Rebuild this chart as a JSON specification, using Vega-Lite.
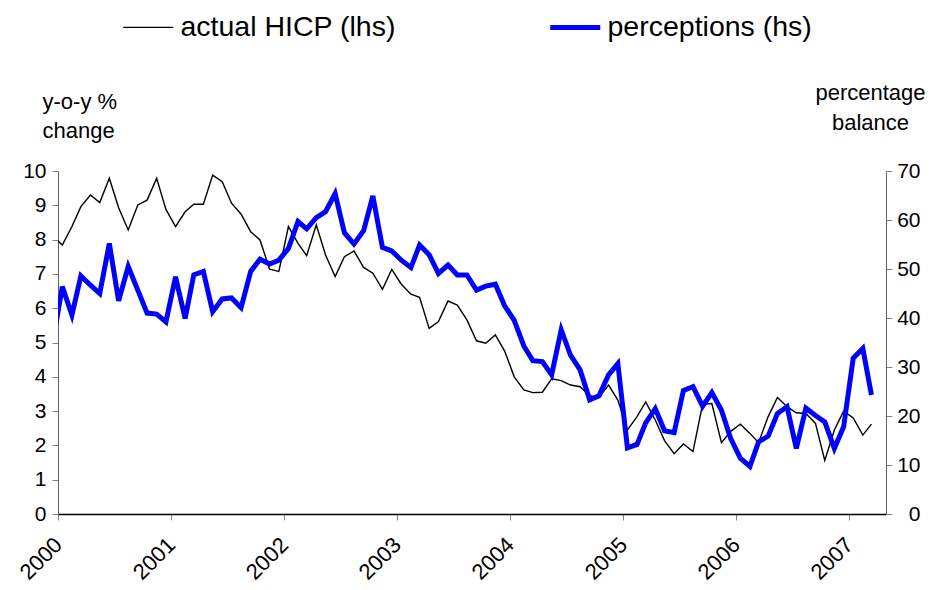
{
  "$schema": "https://vega.github.io/schema/vega-lite/v6.json",
  "autosize": "none",
  "width": 828,
  "height": 343,
  "padding": {"left": 58, "top": 171, "right": 49, "bottom": 76},
  "background": "white",
  "config": {
    "view": {"stroke": null},
    "font": "Liberation Sans",
    "axis": {"labelFont": "Liberation Sans", "titleFont": "Liberation Sans", "labelColor": "#000", "titleColor": "#000", "grid": false},
    "legend": {"labelFont": "Liberation Sans"}
  },
  "data": {
    "values": [
      {"d": "1999-12-15", "h": 8.1, "p": 35.0},
      {"d": "2000-01-15", "h": 7.84, "p": 46.4},
      {"d": "2000-02-15", "h": 8.38, "p": 40.6},
      {"d": "2000-03-15", "h": 8.96, "p": 48.6},
      {"d": "2000-04-15", "h": 9.30, "p": 46.7},
      {"d": "2000-05-15", "h": 9.08, "p": 45.0},
      {"d": "2000-06-15", "h": 9.79, "p": 55.2},
      {"d": "2000-07-15", "h": 8.93, "p": 43.5},
      {"d": "2000-08-15", "h": 8.28, "p": 50.5},
      {"d": "2000-09-15", "h": 9.01, "p": 45.7},
      {"d": "2000-10-15", "h": 9.15, "p": 41.0},
      {"d": "2000-11-15", "h": 9.79, "p": 40.8},
      {"d": "2000-12-15", "h": 8.88, "p": 39.2},
      {"d": "2001-01-15", "h": 8.38, "p": 48.4},
      {"d": "2001-02-15", "h": 8.81, "p": 39.9},
      {"d": "2001-03-15", "h": 9.03, "p": 48.8},
      {"d": "2001-04-15", "h": 9.03, "p": 49.5},
      {"d": "2001-05-15", "h": 9.88, "p": 41.3},
      {"d": "2001-06-15", "h": 9.69, "p": 43.9},
      {"d": "2001-07-15", "h": 9.06, "p": 44.1},
      {"d": "2001-08-15", "h": 8.74, "p": 42.1},
      {"d": "2001-09-15", "h": 8.23, "p": 49.5},
      {"d": "2001-10-15", "h": 7.99, "p": 52.0},
      {"d": "2001-11-15", "h": 7.14, "p": 51.0},
      {"d": "2001-12-15", "h": 7.07, "p": 51.8},
      {"d": "2002-01-15", "h": 8.38, "p": 54.2},
      {"d": "2002-02-15", "h": 7.89, "p": 59.7},
      {"d": "2002-03-15", "h": 7.53, "p": 58.2},
      {"d": "2002-04-15", "h": 8.43, "p": 60.5},
      {"d": "2002-05-15", "h": 7.55, "p": 61.7},
      {"d": "2002-06-15", "h": 6.92, "p": 65.4},
      {"d": "2002-07-15", "h": 7.50, "p": 57.4},
      {"d": "2002-08-15", "h": 7.67, "p": 55.1},
      {"d": "2002-09-15", "h": 7.19, "p": 57.8},
      {"d": "2002-10-15", "h": 7.02, "p": 64.9},
      {"d": "2002-11-15", "h": 6.55, "p": 54.4},
      {"d": "2002-12-15", "h": 7.13, "p": 53.7},
      {"d": "2003-01-15", "h": 6.70, "p": 51.8},
      {"d": "2003-02-15", "h": 6.41, "p": 50.3},
      {"d": "2003-03-15", "h": 6.32, "p": 54.9},
      {"d": "2003-04-15", "h": 5.41, "p": 52.9},
      {"d": "2003-05-15", "h": 5.61, "p": 49.1},
      {"d": "2003-06-15", "h": 6.21, "p": 50.8},
      {"d": "2003-07-15", "h": 6.09, "p": 48.8},
      {"d": "2003-08-15", "h": 5.66, "p": 48.8},
      {"d": "2003-09-15", "h": 5.05, "p": 45.7},
      {"d": "2003-10-15", "h": 4.98, "p": 46.5},
      {"d": "2003-11-15", "h": 5.22, "p": 46.9},
      {"d": "2003-12-15", "h": 4.75, "p": 42.5},
      {"d": "2004-01-15", "h": 4.00, "p": 39.5},
      {"d": "2004-02-15", "h": 3.62, "p": 34.3},
      {"d": "2004-03-15", "h": 3.54, "p": 31.3},
      {"d": "2004-04-15", "h": 3.55, "p": 31.1},
      {"d": "2004-05-15", "h": 3.94, "p": 28.4},
      {"d": "2004-06-15", "h": 3.89, "p": 37.6},
      {"d": "2004-07-15", "h": 3.76, "p": 32.4},
      {"d": "2004-08-15", "h": 3.71, "p": 29.4},
      {"d": "2004-09-15", "h": 3.45, "p": 23.3},
      {"d": "2004-10-15", "h": 3.40, "p": 24.1},
      {"d": "2004-11-15", "h": 3.76, "p": 28.4},
      {"d": "2004-12-15", "h": 3.32, "p": 30.7},
      {"d": "2005-01-15", "h": 2.45, "p": 13.5},
      {"d": "2005-02-15", "h": 2.84, "p": 14.2},
      {"d": "2005-03-15", "h": 3.27, "p": 18.6},
      {"d": "2005-04-15", "h": 2.74, "p": 21.5},
      {"d": "2005-05-15", "h": 2.14, "p": 17.0},
      {"d": "2005-06-15", "h": 1.76, "p": 16.6},
      {"d": "2005-07-15", "h": 2.04, "p": 25.2},
      {"d": "2005-08-15", "h": 1.82, "p": 26.0},
      {"d": "2005-09-15", "h": 3.20, "p": 22.0},
      {"d": "2005-10-15", "h": 3.22, "p": 24.8},
      {"d": "2005-11-15", "h": 2.08, "p": 21.2},
      {"d": "2005-12-15", "h": 2.41, "p": 15.4},
      {"d": "2006-01-15", "h": 2.62, "p": 11.4},
      {"d": "2006-02-15", "h": 2.35, "p": 9.7},
      {"d": "2006-03-15", "h": 2.08, "p": 14.7},
      {"d": "2006-04-15", "h": 2.84, "p": 15.9},
      {"d": "2006-05-15", "h": 3.40, "p": 20.5},
      {"d": "2006-06-15", "h": 3.13, "p": 21.9},
      {"d": "2006-07-15", "h": 2.95, "p": 13.4},
      {"d": "2006-08-15", "h": 2.93, "p": 21.6},
      {"d": "2006-09-15", "h": 2.64, "p": 20.1},
      {"d": "2006-10-15", "h": 1.56, "p": 18.8},
      {"d": "2006-11-15", "h": 2.45, "p": 13.4},
      {"d": "2006-12-15", "h": 3.00, "p": 17.8},
      {"d": "2007-01-15", "h": 2.80, "p": 31.8},
      {"d": "2007-02-15", "h": 2.30, "p": 33.8},
      {"d": "2007-03-15", "h": 2.62, "p": 24.3}
    ]
  },
  "encoding": {
    "x": {
      "field": "d",
      "type": "temporal",
      "scale": {
        "type": "utc",
        "domain": [
          {"year": 2000, "month": 1, "date": 1, "utc": true},
          {"year": 2007, "month": 5, "date": 1, "utc": true}
        ]
      },
      "axis": {
        "title": null,
        "values": [
          {"year": 2000, "month": 1, "date": 1, "utc": true},
          {"year": 2001, "month": 1, "date": 1, "utc": true},
          {"year": 2002, "month": 1, "date": 1, "utc": true},
          {"year": 2003, "month": 1, "date": 1, "utc": true},
          {"year": 2004, "month": 1, "date": 1, "utc": true},
          {"year": 2005, "month": 1, "date": 1, "utc": true},
          {"year": 2006, "month": 1, "date": 1, "utc": true},
          {"year": 2007, "month": 1, "date": 1, "utc": true}
        ],
        "format": "%Y",
        "formatType": "utc",
        "labelAngle": -45,
        "labelAlign": "right",
        "labelBaseline": "middle",
        "labelPadding": 21,
        "labelFontSize": 22,
        "labelFlush": false,
        "labelBound": false,
        "labelOverlap": false,
        "tickSize": 6,
        "tickColor": "#808080",
        "domainColor": "#000000",
        "domainWidth": 1.5
      }
    }
  },
  "layer": [
    {
      "mark": {"type": "line", "clip": true, "strokeWidth": 1.4},
      "encoding": {
        "y": {
          "field": "h",
          "type": "quantitative",
          "scale": {"domain": [0, 10], "nice": false, "zero": true},
          "axis": {
            "orient": "left",
            "values": [0, 1, 2, 3, 4, 5, 6, 7, 8, 9, 10],
            "title": ["y-o-y %", "change"],
            "titleAngle": 0,
            "titleAlign": "left",
            "titleBaseline": "alphabetic",
            "titleX": -16,
            "titleY": -63,
            "titleFontSize": 22,
            "titleFontWeight": "normal",
            "titleLineHeight": 29,
            "labelFontSize": 21,
            "labelPadding": 6,
            "tickSize": 6,
            "tickColor": "#808080",
            "domainColor": "#606060",
            "labelBound": false,
            "labelFlush": false
          }
        },
        "color": {
          "datum": "actual HICP (lhs)",
          "scale": {"domain": ["actual HICP (lhs)", "perceptions (hs)"], "range": ["#000000", "#0000ff"]},
          "legend": {
            "orient": "none",
            "legendX": 76,
            "legendY": -158,
            "direction": "horizontal",
            "columns": 2,
            "columnPadding": 144,
            "title": null,
            "padding": 0,
            "labelFontSize": 28.5,
            "labelLimit": 500,
            "labelOffset": 18,
            "symbolType": "stroke",
            "symbolSize": 2500,
            "encode": {
              "symbols": {
                "update": {
                  "strokeWidth": {"signal": "datum.value === 'perceptions (hs)' ? 5 : 1.4"}
                }
              }
            }
          }
        }
      }
    },
    {
      "mark": {"type": "line", "clip": true, "strokeWidth": 5},
      "encoding": {
        "y": {
          "field": "p",
          "type": "quantitative",
          "scale": {"domain": [0, 70], "nice": false, "zero": true},
          "axis": {
            "orient": "right",
            "values": [0, 10, 20, 30, 40, 50, 60, 70],
            "title": ["percentage", "balance"],
            "titleAngle": 0,
            "titleAlign": "center",
            "titleBaseline": "alphabetic",
            "titleX": -16,
            "titleY": -72,
            "titleFontSize": 22,
            "titleFontWeight": "normal",
            "titleLineHeight": 30,
            "labelFontSize": 21,
            "labelAlign": "right",
            "labelPadding": 28,
            "tickSize": 6,
            "tickColor": "#808080",
            "domainColor": "#606060",
            "labelBound": false,
            "labelFlush": false
          }
        },
        "color": {"datum": "perceptions (hs)"}
      }
    }
  ],
  "resolve": {"scale": {"y": "independent"}}
}
